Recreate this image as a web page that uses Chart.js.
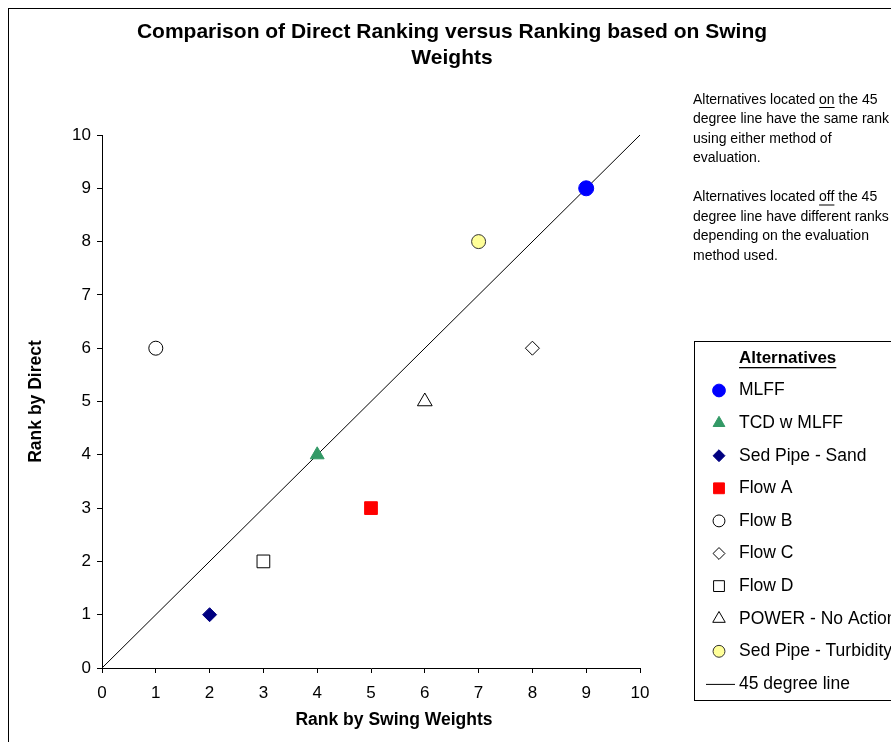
<!DOCTYPE html>
<html lang="en">
<head>
<meta charset="UTF-8">
<title>Direct Ranking vs Swing Weights</title>
<script src="https://cdn.jsdelivr.net/npm/chart.js"></script>
<style>
  body { margin: 0; background: #fff; }
  #wrap { width: 891px; height: 742px; }
</style>
</head>
<body>
<div id="wrap"><canvas id="grafica" width="891" height="742"></canvas></div>
<script>
// data
const alternatives = ['MLFF', 'TCD w MLFF', 'Sed Pipe - Sand', 'Flow A', 'Flow B', 'Flow C', 'Flow D', 'POWER - No Action', 'Sed Pipe - Turbidity'];
const rankSwing = [9, 4, 2, 5, 1, 8, 3, 6, 7];
const rankDirect = [9, 4, 1, 3, 6, 6, 2, 5, 8];
const lineLabel = '45 degree line';
const lineX = [0, 10];
const lineY = [0, 10];
const axisMin = 0;
const axisMax = 10;

const chartTitle = ['Comparison of Direct Ranking versus Ranking based on Swing', 'Weights'];
const xTitle = 'Rank by Swing Weights';
const yTitle = 'Rank by Direct';
const notes = [
    { text: 'Alternatives located on the 45', under: 'on' },
    { text: 'degree line have the same rank' },
    { text: 'using either method of' },
    { text: 'evaluation.' },
    { text: '' },
    { text: 'Alternatives located off the 45', under: 'off' },
    { text: 'degree line have different ranks' },
    { text: 'depending on the evaluation' },
    { text: 'method used.' }
];

// styles
const markerStyle = ['circle', 'triangle', 'rectRot', 'rect', 'circle', 'rectRot', 'rect', 'triangle', 'circle'];
const markerFill = ['#0000ff', '#339966', '#000080', '#ff0000', '#ffffff', '#ffffff', '#ffffff', '#ffffff', '#ffff99'];
const markerBorder = ['#0000ff', '#339966', '#000080', '#ff0000', '#000000', '#000000', '#000000', '#000000', '#333333'];
const markerSize = [7.5, 8, 7, 9, 7, 7, 9, 8.5, 7];

const FONT = '"Liberation Sans", Arial, sans-serif';

const datasets = alternatives.map((name, i) => ({
    label: name,
    data: [{ x: rankSwing[i], y: rankDirect[i] }],
    pointStyle: markerStyle[i],
    pointRadius: markerSize[i],
    pointBackgroundColor: markerFill[i],
    pointBorderColor: markerBorder[i],
    pointBorderWidth: 1,
    showLine: false
}));
datasets.push({
    label: lineLabel,
    data: lineX.map((x, i) => ({ x: x, y: lineY[i] })),
    showLine: true,
    borderColor: '#000',
    borderWidth: 1,
    pointRadius: 0
});

function marcador(ctx, style, r, x, y) {
    if (Chart.helpers && Chart.helpers.drawPoint) {
        Chart.helpers.drawPoint(ctx, { pointStyle: style, radius: r, rotation: 0, borderWidth: 1 }, x, y);
    } else {
        ctx.beginPath();
        ctx.arc(x, y, r, 0, Math.PI * 2);
        ctx.fill();
        ctx.stroke();
    }
}

const decoracion = {
    id: 'decoracion',
    afterDraw(chart) {
        const ctx = chart.ctx;
        ctx.save();

        // outer frame
        ctx.strokeStyle = '#000';
        ctx.lineWidth = 1;
        ctx.strokeRect(8.5, 8.5, 900, 800);

        // title
        ctx.fillStyle = '#000';
        ctx.font = 'bold 21px ' + FONT;
        ctx.textAlign = 'center';
        ctx.textBaseline = 'middle';
        ctx.fillText(chartTitle[0], 452, 32);
        ctx.fillText(chartTitle[1], 452, 58);

        // x axis title (Excel places it slightly right of centre)
        ctx.font = 'bold 17.5px ' + FONT;
        ctx.fillText(xTitle, 394, 720);

        // notes
        ctx.font = '14px ' + FONT;
        ctx.textAlign = 'left';
        notes.forEach((n, i) => {
            const y = 100 + i * 19.5;
            ctx.fillText(n.text, 693, y);
            if (n.under) {
                const k = n.text.indexOf(' ' + n.under + ' ') + 1;
                const x0 = 693 + ctx.measureText(n.text.slice(0, k)).width;
                const w = ctx.measureText(n.under).width;
                ctx.fillRect(x0, y + 7, w, 1);
            }
        });

        // legend box
        ctx.strokeStyle = '#000';
        ctx.strokeRect(694.5, 341.5, 300, 359);
        ctx.font = 'bold 17px ' + FONT;
        ctx.fillStyle = '#000';
        ctx.fillText('Alternatives', 739, 358);
        const tw = ctx.measureText('Alternatives').width;
        ctx.fillRect(739, 367, tw, 1.3);

        ctx.font = '17.5px ' + FONT;
        alternatives.forEach((name, i) => {
            const y = 390.5 + i * 32.6;
            ctx.fillStyle = markerFill[i];
            ctx.strokeStyle = markerBorder[i];
            ctx.lineWidth = 1;
            marcador(ctx, markerStyle[i], markerSize[i] * 0.85, 719, y);
            ctx.fillStyle = '#000';
            ctx.fillText(name, 739, y);
        });
        const yl = 390.5 + alternatives.length * 32.6;
        ctx.strokeStyle = '#000';
        ctx.beginPath();
        ctx.moveTo(706, yl + 0.5);
        ctx.lineTo(735, yl + 0.5);
        ctx.stroke();
        ctx.fillText(lineLabel, 739, yl);

        ctx.restore();
    }
};

const ejeFuente = { family: FONT, size: 17 };
const tituloFuente = { family: FONT, size: 17.5, weight: 'bold' };

new Chart(document.getElementById('grafica'), {
    type: 'scatter',
    data: { datasets: datasets },
    options: {
        responsive: false,
        animation: false,
        layout: { padding: { left: 10, top: 135, right: 251, bottom: 0 } },
        plugins: {
            legend: { display: false },
            tooltip: { enabled: false },
            title: { display: false }
        },
        scales: {
            x: {
                type: 'linear',
                min: axisMin,
                max: axisMax,
                ticks: { stepSize: 1, color: '#000', font: ejeFuente, padding: 10 },
                grid: { drawOnChartArea: false, drawTicks: true, tickLength: 5, color: '#000' },
                border: { color: '#000', width: 1 },
                title: { display: false },
                afterFit: s => { s.height = 74; }
            },
            y: {
                type: 'linear',
                min: axisMin,
                max: axisMax,
                ticks: { stepSize: 1, color: '#000', font: ejeFuente, padding: 6 },
                grid: { drawOnChartArea: false, drawTicks: true, tickLength: 5, color: '#000' },
                border: { color: '#000', width: 1 },
                title: { display: true, text: yTitle, color: '#000', font: tituloFuente, padding: { top: 16, bottom: 0 } },
                afterFit: s => { s.width = 92; }
            }
        }
    },
    plugins: [decoracion]
});
</script>
</body>
</html>
